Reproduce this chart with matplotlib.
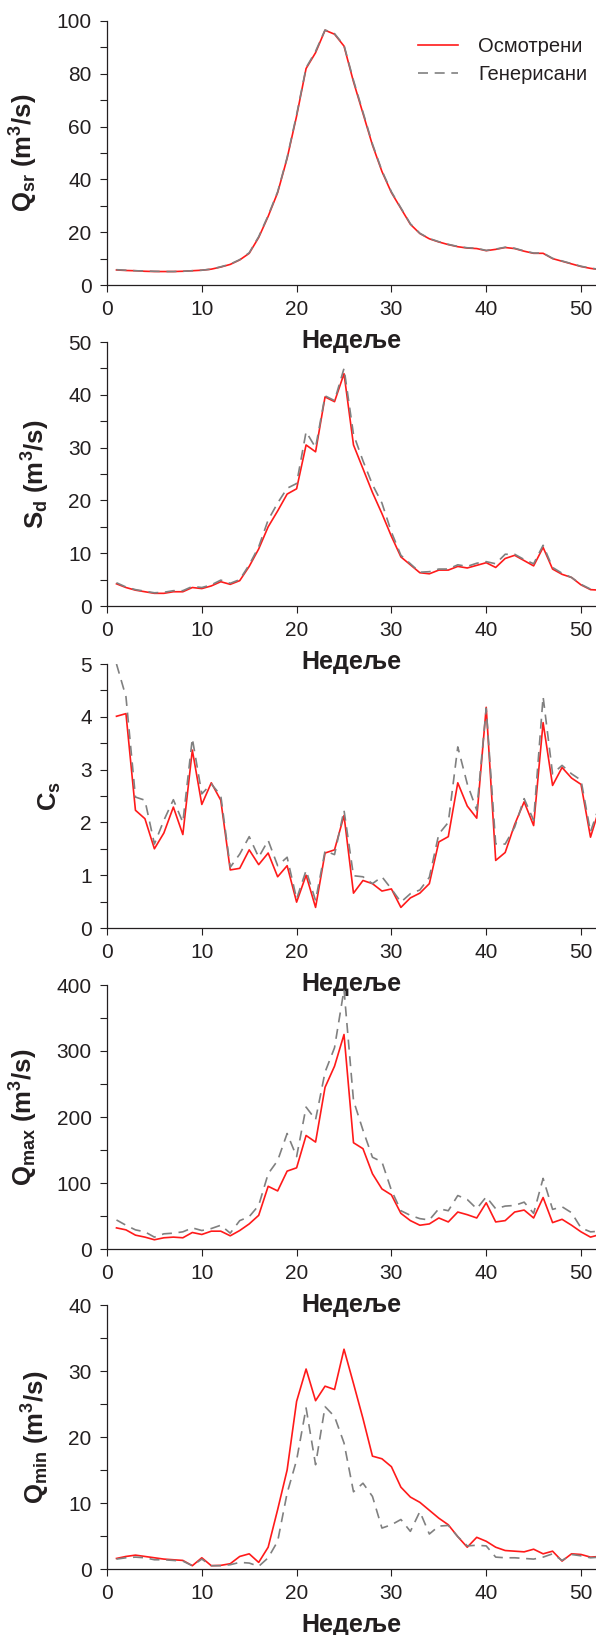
import matplotlib
matplotlib.use("Agg")
import matplotlib.pyplot as plt
from matplotlib.ticker import MultipleLocator

plt.rcParams["font.family"] = ["Liberation Sans", "DejaVu Sans"]
plt.rcParams["mathtext.fontset"] = "custom"
plt.rcParams["mathtext.rm"] = "Liberation Sans:bold"
plt.rcParams["mathtext.it"] = "Liberation Sans:bold"
plt.rcParams["mathtext.bf"] = "Liberation Sans:bold"

# ============================================================
# Data (weeks 1..52)
# ============================================================

weeks = list(range(1, 53))

qsr_obs = [5.7, 5.5, 5.4, 5.2, 5.1, 5.1, 5.1, 5.2, 5.4, 5.6, 6.0, 6.8, 7.8, 9.5, 12.0, 18.0,
           26.0, 35.0, 48.0, 64.0, 82.0, 88.0, 96.5, 95.0, 90.5, 77.0, 65.0, 53.0, 43.0, 35.0,
           29.0, 23.0, 19.5, 17.5, 16.3, 15.3, 14.5, 14.0, 13.8, 13.0, 13.5, 14.2, 13.8, 12.8,
           12.0, 12.0, 10.0, 9.0, 8.0, 7.0, 6.3, 5.8]
qsr_gen = [5.8, 5.6, 5.4, 5.3, 5.2, 5.1, 5.1, 5.2, 5.4, 5.6, 6.0, 6.9, 7.9, 9.6, 12.2, 18.3,
           26.3, 35.3, 48.3, 64.5, 82.3, 88.5, 96.6, 95.2, 90.8, 77.5, 65.5, 53.4, 43.3, 35.3,
           29.2, 23.2, 19.6, 17.6, 16.4, 15.4, 14.6, 14.1, 13.9, 13.1, 13.6, 14.3, 13.9, 12.9,
           12.1, 12.1, 10.1, 9.1, 8.1, 7.1, 6.4, 5.9]

sd_obs = [4.2, 3.5, 3.0, 2.7, 2.4, 2.4, 2.7, 2.7, 3.5, 3.3, 3.8, 4.6, 4.1, 4.8, 7.5, 10.8,
          15.0, 18.0, 21.2, 22.2, 30.5, 29.2, 39.6, 38.7, 44.0, 30.5, 26.0, 21.5, 17.5, 13.2,
          9.3, 7.8, 6.3, 6.1, 6.8, 6.8, 7.5, 7.2, 7.7, 8.2, 7.3, 9.0, 9.6, 8.6,
          7.6, 11.1, 7.0, 6.0, 5.4, 4.0, 3.1, 3.0]
sd_gen = [4.4, 3.6, 3.1, 2.8, 2.5, 2.6, 2.9, 2.9, 3.7, 3.5, 4.0, 4.9, 4.3, 5.0, 7.8, 11.2,
          16.3, 19.5, 22.3, 23.2, 33.0, 30.0, 39.8, 38.9, 45.0, 32.5, 27.5, 23.0, 19.5, 14.0,
          9.6, 8.0, 6.4, 6.5, 7.0, 7.0, 7.8, 7.5, 8.1, 8.4, 8.0, 9.8, 9.8, 8.8,
          8.0, 11.5, 7.3, 6.2, 5.4, 4.1, 3.2, 3.1]

cs_obs = [4.01, 4.06, 2.23, 2.07, 1.50, 1.80, 2.29, 1.77, 3.37, 2.34, 2.75, 2.42, 1.10, 1.13,
          1.48, 1.20, 1.42, 0.97, 1.18, 0.49, 1.00, 0.39, 1.42, 1.48, 2.13, 0.66, 0.90, 0.84,
          0.70, 0.74, 0.39, 0.57, 0.66, 0.84, 1.63, 1.73, 2.75, 2.31, 2.08, 4.18, 1.28, 1.43,
          1.96, 2.39, 1.94, 3.89, 2.70, 3.04, 2.84, 2.72, 1.72, 2.30]
cs_gen = [5.00, 4.38, 2.48, 2.42, 1.59, 2.04, 2.43, 2.00, 3.59, 2.54, 2.73, 2.51, 1.15, 1.40,
          1.73, 1.34, 1.66, 1.18, 1.34, 0.55, 1.09, 0.52, 1.46, 1.39, 2.23, 0.99, 0.97, 0.84,
          0.97, 0.74, 0.49, 0.65, 0.72, 0.96, 1.78, 2.00, 3.43, 2.73, 2.23, 4.16, 1.59, 1.59,
          1.91, 2.45, 2.04, 4.38, 2.92, 3.08, 2.92, 2.80, 1.82, 2.35]

qmax_obs = [32, 29, 21, 18, 14, 17, 18, 17, 25, 22, 27, 27, 20, 28, 38, 51,
            95, 88, 118, 123, 172, 162, 245, 277, 325, 161, 152, 114, 91, 82,
            54, 43, 36, 38, 47, 41, 56, 52, 47, 70, 41, 43, 56, 59,
            47, 78, 40, 45, 36, 26, 18, 22]
qmax_gen = [44, 36, 29, 26, 18, 23, 24, 26, 32, 28, 31, 36, 24, 43, 49, 66,
            114, 134, 175, 140, 215, 196, 268, 305, 393, 225, 180, 139, 132, 89,
            58, 51, 46, 44, 61, 58, 81, 75, 61, 79, 61, 65, 66, 71,
            54, 107, 60, 64, 55, 32, 26, 27]

qmin_obs = [1.6, 1.9, 2.1, 1.9, 1.7, 1.5, 1.4, 1.3, 0.5, 1.7, 0.5, 0.55, 0.8, 1.9, 2.3, 1.0,
            3.3, 9.0, 15.0, 25.4, 30.3, 25.5, 27.7, 27.2, 33.3, 28.1, 22.8, 17.1, 16.7, 15.5,
            12.4, 10.9, 10.1, 8.9, 7.7, 6.7, 4.9, 3.3, 4.8, 4.2, 3.3, 2.8, 2.7, 2.6,
            3.0, 2.3, 2.7, 1.2, 2.3, 2.2, 1.8, 1.9]
qmin_gen = [1.5, 1.7, 1.8, 1.7, 1.4, 1.4, 1.3, 1.2, 0.5, 1.5, 0.5, 0.5, 0.65, 1.0, 0.9, 0.4,
            1.7, 4.2, 11.5, 16.5, 24.4, 15.8, 24.6, 23.1, 19.1, 11.7, 13.0, 11.0, 6.2, 6.7,
            7.5, 5.7, 8.7, 5.3, 6.5, 6.6, 4.9, 3.5, 3.6, 3.5, 1.8, 1.7, 1.7, 1.6,
            1.5, 1.8, 2.3, 1.3, 2.2, 2.0, 1.7, 1.8]

# ============================================================
# Panels
# ============================================================

W, H = 596, 1635
AX_LEFT = 107
AX_TOPS = [21, 342, 664, 985, 1305]
AX_H = 264
X_MAX = 51.58

TEXT = "#231f20"
RED = "#ff1a1a"
GRAY = "#808080"

panels = [
    (qsr_obs, qsr_gen, 100, 20, r"Q$_{sr}$ (m$^3$/s)"),
    (sd_obs, sd_gen, 50, 10, r"S$_d$ (m$^3$/s)"),
    (cs_obs, cs_gen, 5, 1, r"C$_s$"),
    (qmax_obs, qmax_gen, 400, 100, r"Q$_{max}$ (m$^3$/s)"),
    (qmin_obs, qmin_gen, 40, 10, r"Q$_{min}$ (m$^3$/s)"),
]


def style_axis(ax, ymax, ystep):
    ax.set_xlim(0, X_MAX)
    ax.set_ylim(0, ymax)
    ax.xaxis.set_major_locator(MultipleLocator(10))
    ax.yaxis.set_major_locator(MultipleLocator(ystep))
    ax.yaxis.set_minor_locator(MultipleLocator(ystep / 2))
    for side in ("top", "right"):
        ax.spines[side].set_visible(False)
    for side in ("left", "bottom"):
        ax.spines[side].set_color(TEXT)
        ax.spines[side].set_linewidth(0.9)
    ax.tick_params(axis="both", which="both", direction="out", length=5,
                   width=0.8, color=TEXT, labelcolor=TEXT, labelsize=15, pad=6)


fig = plt.figure(figsize=(W / 100, H / 100), dpi=100)

for i, (obs, gen, ymax, ystep, ylabel) in enumerate(panels):
    top = AX_TOPS[i]
    ax = fig.add_axes([AX_LEFT / W, 1 - (top + AX_H) / H, 1 - AX_LEFT / W, AX_H / H])
    # transparent background so the "Недеље" label above stays visible
    ax.patch.set_visible(False)
    ax.plot(weeks, obs, color=RED, lw=1.2, label="Осмотрени")
    ax.plot(weeks, gen, color=GRAY, lw=1.2, dashes=(6, 4), label="Генерисани")
    style_axis(ax, ymax, ystep)
    ax.set_ylabel(ylabel, fontsize=18.5, fontweight="bold", color=TEXT, labelpad=12)
    ax.set_xlabel("Недеље", fontsize=18, fontweight="bold", color=TEXT, labelpad=7)
    if i == 0:
        ax.legend(loc="upper left", bbox_to_anchor=(0.636, 0.94), frameon=False,
                  fontsize=14.5, handlelength=2.0, handletextpad=1.0,
                  labelspacing=0.45, borderpad=0, borderaxespad=0,
                  labelcolor=TEXT)

fig.savefig("out.png", dpi=100)
plt.close(fig)
